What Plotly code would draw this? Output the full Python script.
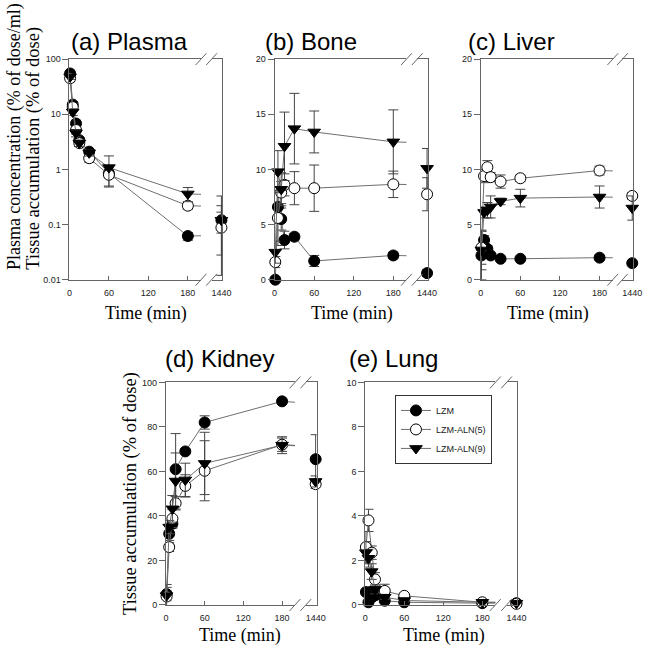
import plotly.graph_objects as go

W, H = 654, 652

# ---------------- data ----------------
time = [1, 5, 10, 15, 30, 60, 180, 1440]
series_names = ["LZM", "LZM-ALN(5)", "LZM-ALN(9)"]
x_tick_main = [0, 60, 120, 180]
x_tick_break = [1440]

# (a) Plasma (% of dose/ml), log scale
plasma_lzm = [55, 15, 6.8, 3.4, 2.1, 0.85, 0.062, 0.12]
plasma_lzm_up = [8, 2, 1.0, 0.4, 0.2, 0.15, 0.01, 0.21]
plasma_lzm_dn = [8, 2, 1.0, 0.4, 0.2, 0.15, 0.01, 0.108]
plasma_aln5 = [45, 13.5, 5.2, 3.0, 1.6, 0.8, 0.22, 0.088]
plasma_aln5_up = [6, 2, 0.8, 0.4, 0.25, 0.3, 0.03, 0.08]
plasma_aln5_dn = [6, 2, 0.8, 0.4, 0.25, 0.3, 0.03, 0.06]
plasma_aln9 = [48, 11, 4.6, 3.0, 2.0, 1.08, 0.36, 0.12]
plasma_aln9_up = [5, 1.5, 0.7, 0.4, 0.25, 0.68, 0.11, 0.1]
plasma_aln9_dn = [5, 1.5, 0.7, 0.4, 0.25, 0.6, 0.1, 0.05]

# (b) Bone (% of dose)
bone_lzm = [0, 6.6, 5.5, 3.6, 3.9, 1.7, 2.2, 0.6]
bone_lzm_err = [0.2, 1.5, 1.0, 0.8, 0.3, 0.5, 0.3, 0.3]
bone_aln5 = [1.6, 5.6, 7.9, 8.6, 8.3, 8.3, 8.65, 7.75]
bone_aln5_err = [0.5, 2.5, 1.0, 1.0, 1.5, 2.1, 1.2, 1.5]
bone_aln9 = [2.5, 9.8, 8.2, 12.1, 13.7, 13.4, 12.5, 10.1]
bone_aln9_err = [1.0, 1.9, 1.5, 3.1, 3.2, 1.9, 2.9, 1.8]

# (c) Liver (% of dose)
liver_lzm = [2.2, 3.6, 2.8, 2.2, 1.9, 1.9, 2.0, 1.5]
liver_lzm_err = [2.2, 0.4, 0.3, 0.2, 0.15, 0.15, 0.2, 0.2]
liver_aln5 = [2.9, 9.4, 10.2, 9.3, 8.9, 9.2, 9.9, 7.6]
liver_aln5_err = [1.5, 0.6, 0.6, 0.4, 0.6, 0.3, 0.4, 0.3]
liver_aln9 = [2.7, 6.1, 6.3, 6.6, 7.1, 7.4, 7.5, 6.5]
liver_aln9_err = [1.8, 0.5, 0.7, 1.0, 0.3, 0.8, 1.0, 1.1]

# (d) Kidney (% of dose)
kidney_lzm = [4.9, 32, 36.5, 61, 69, 82, 91.5, 65.5]
kidney_lzm_err = [3, 3, 2, 16, 1, 3, 1, 11]
kidney_aln5 = [3.8, 26, 38.8, 45.7, 53.5, 60.3, 72, 54.3]
kidney_aln5_err = [1, 2, 4, 3, 5, 13.5, 3, 2]
kidney_aln9 = [4.2, 35, 43.2, 55.7, 56.2, 63.6, 71.8, 55.5]
kidney_aln9_err = [5, 3, 6, 12.6, 7.5, 14, 3.8, 2.5]

# (e) Lung (% of dose)
lung_lzm = [0.58, 0.12, 0.34, 0.43, 0.19, 0.12, 0.08, 0.08]
lung_lzm_err = [0.1, 0.05, 0.1, 0.1, 0.05, 0.05, 0.02, 0.02]
lung_aln5 = [2.6, 3.8, 2.35, 1.15, 0.63, 0.41, 0.12, 0.05]
lung_aln5_err = [0.7, 0.5, 0.3, 0.3, 0.3, 0.1, 0.03, 0.02]
lung_aln9 = [2.35, 2.1, 1.5, 0.7, 0.35, 0.2, 0.12, 0.08]
lung_aln9_err = [0.5, 0.4, 0.35, 0.2, 0.1, 0.05, 0.03, 0.02]

# ---------------- styling ----------------
AXIS = "#666666"
LINE = "#6e6e6e"
ERR = "#444444"
SANS = "Liberation Sans"
SERIF = "Liberation Serif"
marker_styles = [
    dict(symbol="circle", color="black", size=11, line=dict(color="black", width=1)),
    dict(symbol="circle", color="white", size=11, line=dict(color="black", width=1)),
    dict(symbol="triangle-down", color="black", size=11, line=dict(color="black", width=1)),
]


def X(p):
    return p / W


def Y(p):
    return 1 - p / H


panels = [
    dict(title="(a) Plasma", L=67.7, x180=188.3, R=223.5, top=55, bot=279,
         log=True, yrange=[-2, 2], yticks=[0.01, 0.1, 1, 10, 100],
         yticktext=["0.01", "0.1", "1", "10", "100"],
         data=[(plasma_lzm, plasma_lzm_up, plasma_lzm_dn),
               (plasma_aln5, plasma_aln5_up, plasma_aln5_dn),
               (plasma_aln9, plasma_aln9_up, plasma_aln9_dn)],
         tx=128.5, ty=37, xt=(146, 313)),
    dict(title="(b) Bone", L=276.7, x180=397.6, R=433, top=55, bot=279,
         log=False, yrange=[0, 20], yticks=[0, 5, 10, 15, 20], yticktext=None,
         data=[(bone_lzm, bone_lzm_err, None), (bone_aln5, bone_aln5_err, None),
               (bone_aln9, bone_aln9_err, None)],
         tx=313.5, ty=37, xt=(356, 313)),
    dict(title="(c) Liver", L=486.7, x180=607.7, R=642, top=55, bot=279,
         log=False, yrange=[0, 20], yticks=[0, 5, 10, 15, 20], yticktext=None,
         data=[(liver_lzm, liver_lzm_err, None), (liver_aln5, liver_aln5_err, None),
               (liver_aln9, liver_aln9_err, None)],
         tx=518.5, ty=37, xt=(555, 313)),
    dict(title="(d) Kidney", L=166, x180=284.3, R=319.5, top=383.3, bot=609.3,
         log=False, yrange=[0, 100], yticks=[0, 20, 40, 60, 80, 100], yticktext=None,
         data=[(kidney_lzm, kidney_lzm_err, None), (kidney_aln5, kidney_aln5_err, None),
               (kidney_aln9, kidney_aln9_err, None)],
         tx=221, ty=359, xt=(241, 640)),
    dict(title="(e) Lung", L=369, x180=488.3, R=524, top=383.3, bot=609.3,
         log=False, yrange=[0, 10], yticks=[0, 2, 4, 6, 8, 10], yticktext=None,
         data=[(lung_lzm, lung_lzm_err, None), (lung_aln5, lung_aln5_err, None),
               (lung_aln9, lung_aln9_err, None)],
         tx=398, ty=359, xt=(449, 640)),
]

fig = go.Figure()
layout = dict(
    width=W, height=H, margin=dict(l=0, r=0, t=0, b=0),
    paper_bgcolor="white", plot_bgcolor="white",
    showlegend=True,
    legend=dict(x=X(399.3), y=Y(396), xanchor="left", yanchor="top",
                bordercolor="#333", borderwidth=1, bgcolor="white",
                font=dict(family=SANS, size=9, color="#222"),
                itemwidth=30, tracegroupgap=0),
)
annotations = []
shapes = []

tickfont = dict(family=SANS, size=9, color="#222")

for i, p in enumerate(panels):
    m = 2 * i + 1
    b = 2 * i + 2
    s = (p["x180"] - p["L"]) / 180.0
    xend = p["L"] + 200 * s
    bstart = p["R"] - 11
    ydom = [Y(p["bot"]), Y(p["top"])]
    ytype = "log" if p["log"] else "linear"

    # main x axis
    layout[f"xaxis{m}"] = dict(
        domain=[X(p["L"]), X(xend)], range=[0, 200], anchor=f"y{m}",
        showline=True, linecolor=AXIS, linewidth=1, mirror=True,
        ticks="inside", ticklen=4, tickcolor=AXIS, tickvals=x_tick_main,
        tickfont=tickfont, ticklabelstandoff=4,
        showgrid=False, zeroline=False,
    )
    layout[f"yaxis{m}"] = dict(
        domain=ydom, range=p["yrange"], type=ytype, anchor=f"x{m}",
        showline=True, linecolor=AXIS, linewidth=1, mirror=False,
        ticks="outside", ticklen=6, tickcolor=AXIS, tickvals=p["yticks"],
        ticktext=p["yticktext"], tickfont=tickfont,
        showgrid=False, zeroline=False,
    )
    # break segment axes
    layout[f"xaxis{b}"] = dict(
        domain=[X(bstart), X(p["R"])], range=[1430, 1441], anchor=f"y{b}",
        showline=True, linecolor=AXIS, linewidth=1, mirror=True,
        ticks="inside", ticklen=4, tickcolor=AXIS, tickvals=x_tick_break,
        tickfont=tickfont, ticklabelstandoff=4,
        showgrid=False, zeroline=False,
    )
    layout[f"yaxis{b}"] = dict(
        domain=ydom, range=p["yrange"], type=ytype, anchor=f"x{b}",
        side="right", showline=True, linecolor=AXIS, linewidth=1,
        showticklabels=False, ticks="", showgrid=False, zeroline=False,
    )

    for k, (vals, up, dn) in enumerate(p["data"]):
        err_main = dict(type="data", array=up[:7], color=ERR, thickness=1, width=5)
        err_end = dict(type="data", array=up[7:], color=ERR, thickness=1, width=5)
        if dn is not None:
            err_main.update(symmetric=False, arrayminus=dn[:7])
            err_end.update(symmetric=False, arrayminus=dn[7:])
        # line from 180 toward 1440 (clipped at the break)
        fig.add_trace(go.Scatter(
            x=time[6:], y=vals[6:], mode="lines",
            line=dict(color=LINE, width=1), xaxis=f"x{m}", yaxis=f"y{m}",
            showlegend=False, hoverinfo="skip"))
        fig.add_trace(go.Scatter(
            x=time[:7], y=vals[:7], mode="lines+markers", name=series_names[k],
            line=dict(color=LINE, width=1), marker=marker_styles[k],
            error_y=err_main, cliponaxis=False,
            xaxis=f"x{m}", yaxis=f"y{m}", legendgroup=series_names[k],
            showlegend=(i == 4)))
        fig.add_trace(go.Scatter(
            x=time[7:], y=vals[7:], mode="markers", marker=marker_styles[k],
            error_y=err_end, cliponaxis=False,
            xaxis=f"x{b}", yaxis=f"y{b}", showlegend=False))

    # break marks
    for xc in (xend, bstart):
        for yc in (p["top"], p["bot"]):
            shapes.append(dict(type="line", xref="paper", yref="paper",
                               x0=X(xc - 5.5), y0=Y(yc + 6), x1=X(xc + 5.5), y1=Y(yc - 6),
                               line=dict(color=AXIS, width=1)))

    annotations.append(dict(text=p["title"], x=X(p["tx"]), y=Y(p["ty"]),
                            xref="paper", yref="paper", showarrow=False,
                            xanchor="center", yanchor="middle",
                            font=dict(family=SANS, size=24, color="black")))
    annotations.append(dict(text="Time (min)", x=X(p["xt"][0]), y=Y(p["xt"][1]),
                            xref="paper", yref="paper", showarrow=False,
                            xanchor="center", yanchor="middle",
                            font=dict(family=SERIF, size=18, color="black")))

# y-axis titles
annotations.append(dict(text="Plasma concentration (% of dose/ml)", x=X(12), y=Y(271),
                        xref="paper", yref="paper", showarrow=False, textangle=-90,
                        xanchor="center", yanchor="bottom",
                        font=dict(family=SERIF, size=18, color="black")))
annotations.append(dict(text="Tissue accumulation (% of dose)", x=X(31), y=Y(271),
                        xref="paper", yref="paper", showarrow=False, textangle=-90,
                        xanchor="center", yanchor="bottom",
                        font=dict(family=SERIF, size=18.5, color="black")))
annotations.append(dict(text="Tissue accumulation (% of dose)", x=X(130), y=Y(496),
                        xref="paper", yref="paper", showarrow=False, textangle=-90,
                        xanchor="center", yanchor="middle",
                        font=dict(family=SERIF, size=18.5, color="black")))

layout["annotations"] = annotations
layout["shapes"] = shapes
fig.update_layout(**layout)
fig.write_html(
    "out.html",
    config={"displayModeBar": False},
    post_script="document.body.style.margin='0px'; document.body.style.overflow='hidden';",
)
